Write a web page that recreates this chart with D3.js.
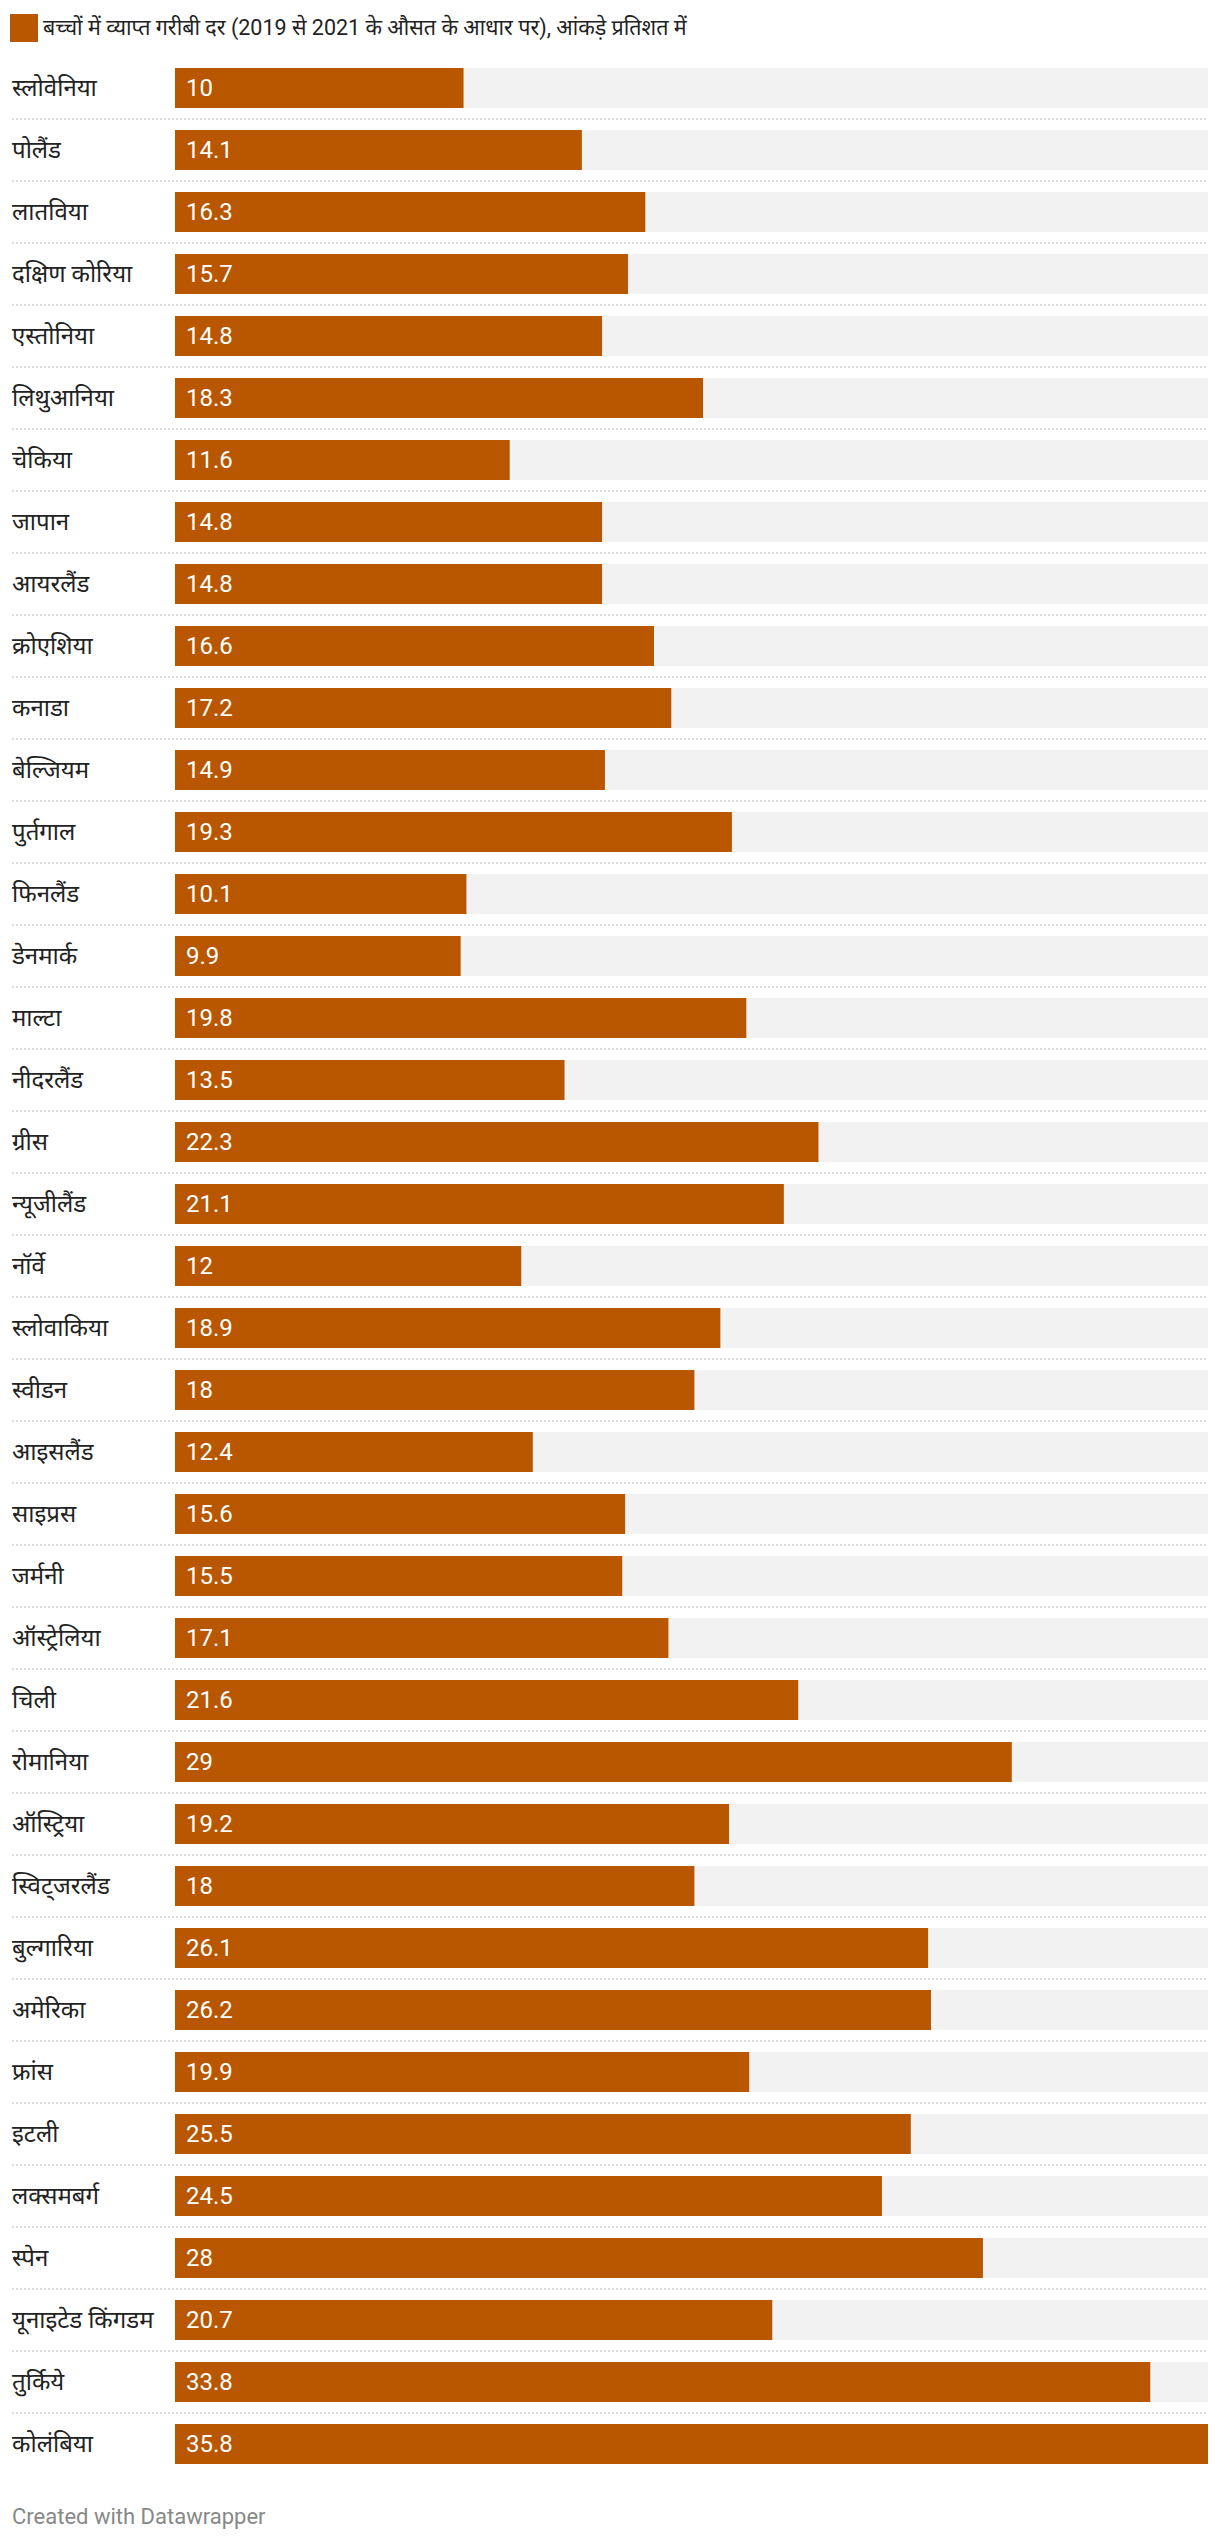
<!DOCTYPE html>
<html>
<head>
<meta charset="utf-8">
<script src="https://cdn.jsdelivr.net/npm/d3@7"></script>
<style>
  html, body { margin: 0; padding: 0; background: #fff; }
  svg { display: block; }
  text { font-family: Roboto, "Noto Sans", sans-serif; }
</style>
</head>
<body>
<svg id="chart" width="1220" height="2542"></svg>
<script>
const title = "बच्चों में व्याप्त गरीबी दर (2019 से 2021 के औसत के आधार पर), आंकड़े प्रतिशत में";
const footer = "Created with Datawrapper";
const countries = [
  "स्लोवेनिया", "पोलैंड", "लातविया", "दक्षिण कोरिया", "एस्तोनिया", "लिथुआनिया",
  "चेकिया", "जापान", "आयरलैंड", "क्रोएशिया", "कनाडा", "बेल्जियम", "पुर्तगाल",
  "फिनलैंड", "डेनमार्क", "माल्टा", "नीदरलैंड", "ग्रीस", "न्यूजीलैंड", "नॉर्वे",
  "स्लोवाकिया", "स्वीडन", "आइसलैंड", "साइप्रस", "जर्मनी", "ऑस्ट्रेलिया", "चिली",
  "रोमानिया", "ऑस्ट्रिया", "स्विट्जरलैंड", "बुल्गारिया", "अमेरिका", "फ्रांस",
  "इटली", "लक्समबर्ग", "स्पेन", "यूनाइटेड किंगडम", "तुर्किये", "कोलंबिया"
];
const values = [
  10, 14.1, 16.3, 15.7, 14.8, 18.3,
  11.6, 14.8, 14.8, 16.6, 17.2, 14.9, 19.3,
  10.1, 9.9, 19.8, 13.5, 22.3, 21.1, 12,
  18.9, 18, 12.4, 15.6, 15.5, 17.1, 21.6,
  29, 19.2, 18, 26.1, 26.2, 19.9,
  25.5, 24.5, 28, 20.7, 33.8, 35.8
];

const data = countries.map((c, i) => ({ country: c, value: values[i] }));

const barColor = "#b95700";
const trackColor = "#f2f2f2";

const svg = d3.select("#chart");

const rowStep = 62, barH = 40, gap = rowStep - barH;
const top0 = 68 - gap / 2;
const y = d3.scaleBand()
  .domain(countries)
  .range([top0, top0 + countries.length * rowStep])
  .paddingInner(gap / rowStep)
  .paddingOuter(gap / 2 / rowStep);

const x = d3.scaleLinear()
  .domain([0, d3.max(values)])
  .range([175, 1208]);

// Legend / title
svg.append("rect")
  .attr("x", 10).attr("y", 14)
  .attr("width", 28).attr("height", 28)
  .attr("fill", barColor);
svg.append("text")
  .attr("x", 43).attr("y", 35)
  .attr("font-size", 21.5)
  .attr("fill", "#222")
  .text(title);

const rows = svg.append("g").selectAll("g")
  .data(data)
  .join("g");

// dotted separators
rows.filter((d, i) => i < data.length - 1)
  .append("line")
  .attr("x1", 12).attr("x2", x.range()[1])
  .attr("y1", d => y(d.country) + barH + gap / 2)
  .attr("y2", d => y(d.country) + barH + gap / 2)
  .attr("stroke", "#dcdcdc")
  .attr("stroke-width", 2)
  .attr("stroke-dasharray", "2,2");

// tracks
rows.append("rect")
  .attr("x", x(0))
  .attr("y", d => y(d.country))
  .attr("width", x.range()[1] - x(0))
  .attr("height", y.bandwidth())
  .attr("fill", trackColor);

// bars
rows.append("rect")
  .attr("x", x(0))
  .attr("y", d => y(d.country))
  .attr("width", d => x(d.value) - x(0))
  .attr("height", y.bandwidth())
  .attr("fill", barColor);

// country labels
rows.append("text")
  .attr("x", 12)
  .attr("y", d => y(d.country) + y.bandwidth() / 2)
  .attr("dy", "0.35em")
  .attr("font-size", 24)
  .attr("fill", "#222")
  .text(d => d.country);

// value labels
rows.append("text")
  .attr("x", x(0) + 11)
  .attr("y", d => y(d.country) + y.bandwidth() / 2)
  .attr("dy", "0.35em")
  .attr("font-size", 24)
  .attr("fill", "#fff")
  .text(d => d.value);

// footer
svg.append("text")
  .attr("x", 12).attr("y", 2524)
  .attr("font-size", 22)
  .attr("fill", "#888")
  .text(footer);
</script>
</body>
</html>
